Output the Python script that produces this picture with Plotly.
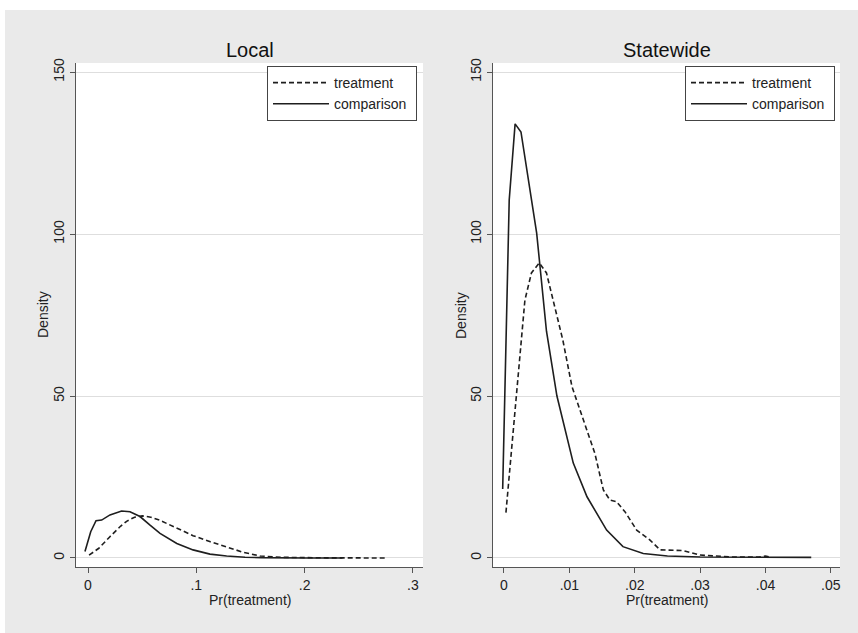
import plotly.graph_objects as go

W, H = 858, 633

# ---- data ----
local_comp_x = [-0.0028, 0.0025, 0.0074, 0.0126, 0.0203, 0.031, 0.0388, 0.048, 0.057, 0.0665, 0.082, 0.097, 0.1126, 0.128, 0.145, 0.16, 0.2, 0.235]
local_comp_y = [2.0, 8.1, 11.5, 11.7, 13.3, 14.5, 14.3, 12.8, 10.2, 7.6, 4.5, 2.5, 1.2, 0.6, 0.25, 0.1, 0.02, 0.0]
local_treat_x = [0.001, 0.01, 0.02, 0.03, 0.036, 0.043, 0.05, 0.058, 0.066, 0.082, 0.097, 0.113, 0.128, 0.143, 0.159, 0.18, 0.22, 0.274]
local_treat_y = [0.9, 3.0, 6.5, 9.8, 11.4, 12.6, 13.0, 12.6, 11.7, 9.2, 6.9, 5.0, 3.3, 1.8, 0.6, 0.2, 0.05, 0.0]

state_comp_x = [-0.0002, 0.0003, 0.0008, 0.0017, 0.0026, 0.005, 0.0065, 0.0081, 0.0106, 0.0127, 0.0157, 0.0182, 0.0213, 0.025, 0.03, 0.047]
state_comp_y = [21.3, 67, 110.5, 134, 131.5, 100.3, 70, 50, 29.3, 18.9, 8.6, 3.5, 1.4, 0.6, 0.3, 0.2]
state_treat_x = [0.0003, 0.0019, 0.0027, 0.0032, 0.0042, 0.0054, 0.0065, 0.0078, 0.009, 0.0104, 0.0121, 0.0139, 0.0152, 0.0162, 0.0172, 0.0185, 0.0203, 0.0223, 0.0239, 0.0274, 0.03, 0.035, 0.039, 0.040, 0.0407]
state_treat_y = [14, 49.8, 68.5, 79.6, 88, 91.1, 88, 77.6, 67.3, 52.9, 42.6, 32.3, 21, 17.9, 17.4, 14.3, 8.6, 5.6, 2.5, 2.3, 0.9, 0.3, 0.3, 0.6, 0.3]

panel_titles = ["Local", "Statewide"]
series_names = ["treatment", "comparison"]
y_ticks = [0, 50, 100, 150]
left_x_ticks = [0, 0.1, 0.2, 0.3]
left_x_labels = ["0", ".1", ".2", ".3"]
right_x_ticks = [0, 0.01, 0.02, 0.03, 0.04, 0.05]
right_x_labels = ["0", ".01", ".02", ".03", ".04", ".05"]

FONT = "Liberation Sans, Arial, Helvetica, sans-serif"
LINE = "#1e1e1e"
AXIS = "#555555"
GRID = "#dedede"
BG = "#eaeaea"

def px(x):
    return x / W

def py(y):
    return 1 - y / H

fig = go.Figure()

NB = "\u00a0"
dash = "5px,3px"
LW = 1.6
fig.add_trace(go.Scatter(x=local_treat_x, y=local_treat_y, mode="lines", name=series_names[0] + NB,
                         line=dict(color=LINE, width=LW, dash=dash), xaxis="x", yaxis="y", legend="legend"))
fig.add_trace(go.Scatter(x=local_comp_x, y=local_comp_y, mode="lines", name=series_names[1] + NB,
                         line=dict(color=LINE, width=LW), xaxis="x", yaxis="y", legend="legend"))
fig.add_trace(go.Scatter(x=state_treat_x, y=state_treat_y, mode="lines", name=series_names[0] + NB,
                         line=dict(color=LINE, width=LW, dash=dash), xaxis="x2", yaxis="y2", legend="legend2"))
fig.add_trace(go.Scatter(x=state_comp_x, y=state_comp_y, mode="lines", name=series_names[1] + NB,
                         line=dict(color=LINE, width=LW), xaxis="x2", yaxis="y2", legend="legend2"))

ydom = [py(567), py(63)]
yrange = [-2.78, 152.8]

common_x = dict(showline=True, linecolor=AXIS, linewidth=1.2, ticks="outside", ticklen=5,
                tickcolor=AXIS, tickwidth=1.2, showgrid=False, zeroline=False,
                tickfont=dict(family=FONT, size=14, color="#222"), automargin=False)
common_y = dict(showline=True, linecolor=AXIS, linewidth=1.2, ticks="outside", ticklen=5,
                tickcolor=AXIS, tickwidth=1.2, showgrid=True, gridcolor=GRID, gridwidth=1,
                zeroline=False, tickangle=-90, range=yrange, tickvals=y_ticks,
                ticktext=[str(v) for v in y_ticks],
                tickfont=dict(family=FONT, size=14, color="#222"), automargin=False, domain=ydom)

legend_common = dict(xanchor="right", yanchor="top", bgcolor="white",
                     bordercolor="#444", borderwidth=1, font=dict(family=FONT, size=14, color="#222"),
                     itemwidth=56, tracegroupgap=0)

fig.update_layout(
    width=W, height=H,
    margin=dict(l=0, r=0, t=0, b=0),
    paper_bgcolor=BG, plot_bgcolor="white",
    font=dict(family=FONT, size=14, color="#222"),
    xaxis=dict(domain=[px(76), px(423)], range=[-0.01108, 0.3093], tickvals=left_x_ticks,
               ticktext=left_x_labels, anchor="y", **common_x),
    yaxis=dict(anchor="x", **common_y),
    xaxis2=dict(domain=[px(493), px(840)], range=[-0.00168, 0.0514], tickvals=right_x_ticks,
                ticktext=right_x_labels, anchor="y2", **common_x),
    yaxis2=dict(anchor="x2", **common_y),
    legend=dict(x=px(417), y=py(66), **legend_common),
    legend2=dict(x=px(835), y=py(66), **legend_common),
    showlegend=True,
)

# white strips at top and left edge of the image
fig.add_shape(type="rect", xref="paper", yref="paper", x0=0, x1=1, y0=py(10), y1=1.01,
              fillcolor="white", line=dict(width=0), layer="below")
fig.add_shape(type="rect", xref="paper", yref="paper", x0=-0.01, x1=px(5), y0=-0.01, y1=1.01,
              fillcolor="white", line=dict(width=0), layer="below")

# titles and axis titles
ann = []
for cx, t in [((76 + 423) / 2, panel_titles[0]), ((493 + 840) / 2, panel_titles[1])]:
    ann.append(dict(text=t, x=px(cx), y=py(50), xref="paper", yref="paper", showarrow=False,
                    xanchor="center", yanchor="middle", font=dict(family=FONT, size=20, color="#111")))
for cx in [(76 + 423) / 2, (493 + 840) / 2]:
    ann.append(dict(text="Pr(treatment)", x=px(cx), y=py(600), xref="paper", yref="paper",
                    showarrow=False, xanchor="center", yanchor="middle",
                    font=dict(family=FONT, size=14, color="#222")))
for cx in [43, 461]:
    ann.append(dict(text="Density", x=px(cx), y=py(315), xref="paper", yref="paper",
                    showarrow=False, xanchor="center", yanchor="middle", textangle=-90,
                    font=dict(family=FONT, size=14, color="#222")))
fig.update_layout(annotations=ann)

fig.write_html("out.html")
